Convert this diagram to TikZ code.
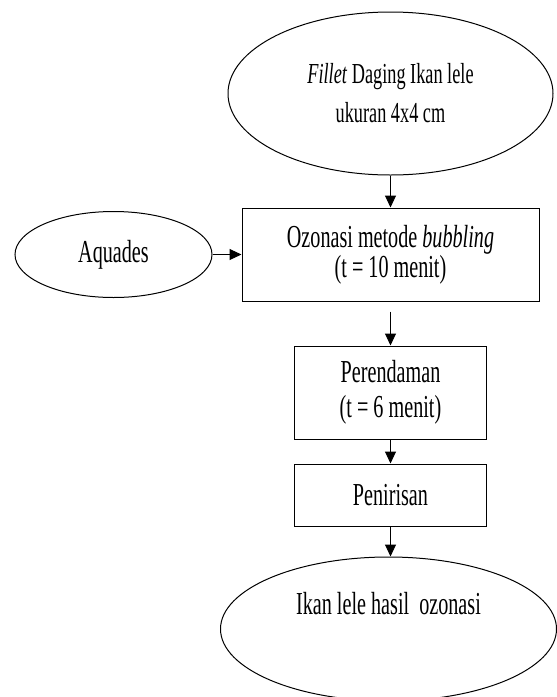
\documentclass[tikz,border=0pt]{standalone}
\usepackage{fontspec}
\setmainfont[FakeStretch=0.63]{Liberation Serif}
\usetikzlibrary{shapes,arrows.meta,positioning}

\begin{document}
\begin{tikzpicture}[x=1pt,y=1pt,
  bahan/.style={ellipse,draw,line width=1pt,inner sep=0pt,align=center},
  proses/.style={rectangle,draw,line width=1pt,inner sep=0pt,align=center},
  panah/.style={-{Triangle[length=12pt,width=11pt]},line width=1pt},
  font=\fontsize{32}{30}\selectfont]
  \useasboundingbox (0,0) rectangle (557,-697);

  \node[bahan, minimum width=325pt, minimum height=163pt, font=\fontsize{29}{39}\selectfont] (fillet) at (390.5,-93.5) {\textit{Fillet} Daging Ikan lele\\ukuran 4x4 cm};
  \node[proses, minimum width=297pt, minimum height=93pt, below = 32pt of fillet] (ozon) {Ozonasi metode \textit{bubbling}\\(t = 10 menit)};
  \node[bahan, minimum width=197pt, minimum height=86pt, left = 29pt of ozon] (aquades) {Aquades};
  \node[proses, minimum width=192pt, minimum height=93pt, below = 44pt of ozon, font=\fontsize{32}{35}\selectfont] (rendam) {Perendaman\\(t = 6 menit)};
  \node[proses, minimum width=192pt, minimum height=62pt, below = 24pt of rendam] (tiris) {Penirisan};
  \node[bahan, minimum width=336pt, minimum height=144pt, below = 30pt of tiris, xshift=-2pt,
    label={[yshift=25pt]center:Ikan lele hasil~ ozonasi}] (hasil) {};

  \draw[panah] (fillet) -- (ozon);
  \draw[panah] (aquades) -- (ozon);
  \draw[panah, shorten <=10pt] (ozon) -- (rendam);
  \draw[panah] (rendam) -- (tiris);
  \draw[panah] (tiris.south) -- (tiris.south |- hasil.north);

\end{tikzpicture}
\end{document}
